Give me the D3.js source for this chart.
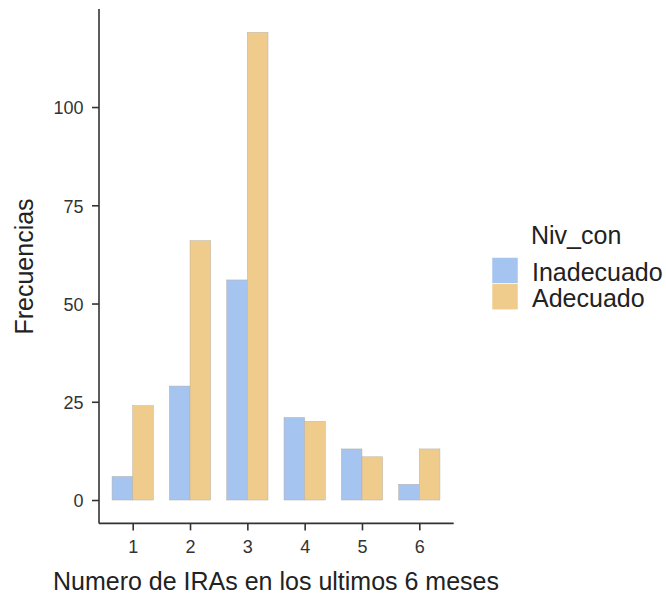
<!DOCTYPE html>
<html><head><meta charset="utf-8">
<script src="https://cdn.jsdelivr.net/npm/d3@7"></script>
<style>body{margin:0;background:#fff;} text{font-family:"Liberation Sans",Arial,sans-serif;}</style>
</head><body>
<svg id="chart" width="666" height="596"></svg>
<script>
const categories = ["1","2","3","4","5","6"];
const seriesNames = ["Inadecuado","Adecuado"];
const inadecuado = [6,29,56,21,13,4];
const adecuado = [24,66,119,20,11,13];
const yTicks = [0,25,50,75,100];
const colors = ["#a6c4f0","#f0cc8c"];

(function(){
const svg = d3.select("#chart");
const pLeft = 99, pRight = 453.7, pTop = 9, pBottom = 523.4;
const x = d3.scalePoint().domain(categories).range([132.7, 419.3]);
const step = x.step();
const y = d3.scaleLinear().domain([-5.95, 124.95]).range([pBottom, pTop]);
const barW = step * 0.36;

const data = categories.map((c,i)=>({c, vals:[inadecuado[i], adecuado[i]]}));
const g = svg.append("g");
data.forEach(d=>{
  d.vals.forEach((v,j)=>{
    g.append("rect")
      .attr("x", x(d.c) - barW + j*barW)
      .attr("y", y(v))
      .attr("width", barW)
      .attr("height", y(0)-y(v))
      .attr("fill", colors[j])
      .attr("stroke", "#b5b0a8")
      .attr("stroke-width", 0.5);
  });
});

const yAxis = d3.axisLeft(y).tickValues(yTicks).tickSize(7).tickPadding(8.5);
const ya = svg.append("g").attr("transform", `translate(${pLeft},0)`).call(yAxis);
ya.select(".domain").attr("d", `M0,${pBottom}V${pTop}`).attr("stroke","#333").attr("stroke-width",1.6);
ya.selectAll(".tick line").attr("stroke","#333").attr("stroke-width",1.6);
ya.selectAll(".tick text").attr("fill","#333").attr("font-size","18px").attr("dy","0.38em").attr("font-family","Liberation Sans, Arial, sans-serif");

const xAxis = d3.axisBottom(x).tickSize(7).tickPadding(10);
const xa = svg.append("g").attr("transform", `translate(0,${pBottom})`).call(xAxis);
xa.select(".domain").attr("d", `M${pLeft},0H${pRight}`).attr("stroke","#333").attr("stroke-width",1.6);
xa.selectAll(".tick line").attr("stroke","#333").attr("stroke-width",1.6);
xa.selectAll(".tick text").attr("fill","#333").attr("font-size","18px").attr("font-family","Liberation Sans, Arial, sans-serif");

svg.append("text").attr("x", 276).attr("y", 590).attr("text-anchor","middle")
  .attr("font-size","25px").attr("fill","#222").text("Numero de IRAs en los ultimos 6 meses");
svg.append("text").attr("transform", `translate(33,266.5) rotate(-90)`).attr("text-anchor","middle")
  .attr("font-size","25px").attr("fill","#222").text("Frecuencias");

const lg = svg.append("g");
lg.append("text").attr("x", 531).attr("y", 244.3).attr("font-size","25px").attr("fill","#222").text("Niv_con");
seriesNames.forEach((n,i)=>{
  lg.append("rect").attr("x", 492).attr("y", 257.5 + i*26.3).attr("width", 26).attr("height", 26)
    .attr("fill", colors[i]).attr("stroke","#fff").attr("stroke-width",0.5);
  lg.append("text").attr("x", 532).attr("y", 281 + i*25.7).attr("font-size","25px").attr("fill","#222").text(n);
});
})();
</script>
</body></html>
